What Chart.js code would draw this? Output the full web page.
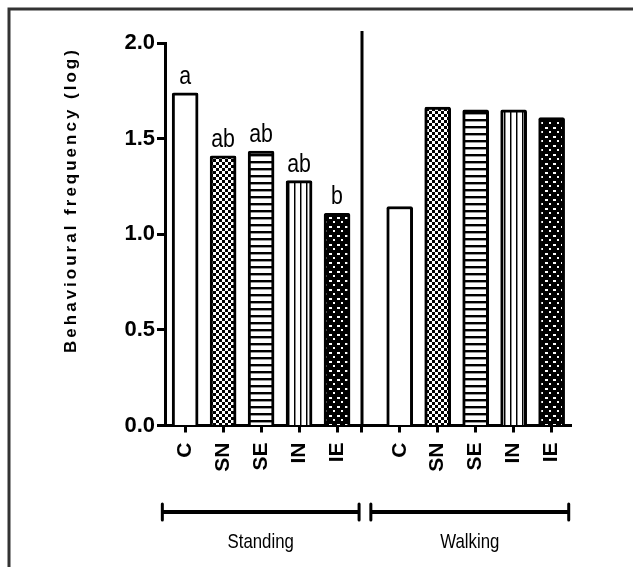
<!DOCTYPE html>
<html>
<head>
<meta charset="utf-8">
<script src="https://cdn.jsdelivr.net/npm/chart.js@4"></script>
<style>
  html, body { margin: 0; padding: 0; background: #fff; }
  #wrap { width: 633px; height: 567px; position: relative; }
</style>
</head>
<body>
<div id="wrap"><canvas id="chart"></canvas></div>
<script>
// Behavioural frequency (log) per treatment, standing vs walking
const groups = ['Standing', 'Walking'];
const treatments = ['C', 'SN', 'SE', 'IN', 'IE'];
const standingPos = [1, 2, 3, 4, 5];
const walkingPos = [6.65, 7.65, 8.65, 9.65, 10.65];
const dividerPos = 5.65;
const standingValues = [1.74, 1.41, 1.435, 1.28, 1.11];
const walkingValues = [1.145, 1.665, 1.65, 1.65, 1.61];
const standingLetters = ['a', 'ab', 'ab', 'ab', 'b'];
const yTicks = [0.0, 0.5, 1.0, 1.5, 2.0];

const SANS = "'Liberation Sans', Arial, sans-serif";

function makePattern(kind) {
    const c = document.createElement('canvas');
    const g = c.getContext('2d');
    if (kind === 'white') return '#ffffff';
    if (kind === 'checker') {
        c.width = 6; c.height = 6;
        g.fillStyle = '#fff'; g.fillRect(0, 0, 6, 6);
        g.fillStyle = '#000';
        g.fillRect(0, 0, 3, 3); g.fillRect(3, 3, 3, 3);
    } else if (kind === 'hlines') {
        c.width = 4; c.height = 7;
        g.fillStyle = '#fff'; g.fillRect(0, 0, 4, 7);
        g.fillStyle = '#000'; g.fillRect(0, 0, 4, 2);
        g.fillStyle = '#999'; g.fillRect(0, 2, 4, 1);
    } else if (kind === 'vlines') {
        c.width = 6; c.height = 4;
        g.fillStyle = '#fff'; g.fillRect(0, 0, 6, 4);
        g.fillStyle = '#000'; g.fillRect(0, 0, 1, 4);
        g.fillStyle = '#888'; g.fillRect(1, 0, 1, 4);
    } else if (kind === 'dots') {
        c.width = 8; c.height = 9;
        g.fillStyle = '#000'; g.fillRect(0, 0, 8, 9);
        g.fillStyle = '#fff';
        g.fillRect(1, 1, 3, 2); g.fillRect(5, 5, 2, 2);
    }
    return g.createPattern(c, 'repeat');
}

const fills = ['white', 'checker', 'hlines', 'vlines', 'dots'].map(makePattern);

const allTickPos = standingPos.concat([dividerPos], walkingPos);
const allTickLabels = treatments.concat([''], treatments);

// narrow-looking text: draw with a horizontal squeeze
function narrowText(ctx, text, x, y, squeeze) {
    ctx.save();
    ctx.translate(x, y);
    ctx.scale(squeeze, 1);
    ctx.fillText(text, 0, 0);
    ctx.restore();
}

const extrasPlugin = {
    id: 'extras',
    afterDraw(chart) {
        const ctx = chart.ctx;
        const x = chart.scales.x;
        const y = chart.scales.y;
        ctx.save();

        // outer frame (top & left)
        ctx.strokeStyle = '#333';
        ctx.lineWidth = 3;
        ctx.beginPath();
        ctx.moveTo(9, 633); ctx.lineTo(9, 9); ctx.lineTo(633, 9);
        ctx.stroke();

        // divider between groups
        ctx.strokeStyle = '#000';
        ctx.lineWidth = 3;
        const dx = Math.round(x.getPixelForValue(dividerPos));
        ctx.beginPath();
        ctx.moveTo(dx, 31); ctx.lineTo(dx, y.getPixelForValue(0));
        ctx.stroke();

        // significance letters
        const meta = chart.getDatasetMeta(0);
        ctx.fillStyle = '#000';
        ctx.font = '26px ' + SANS;
        ctx.textAlign = 'center';
        ctx.textBaseline = 'bottom';
        meta.data.forEach((bar, i) => {
            narrowText(ctx, standingLetters[i], bar.x, bar.y - 3, 0.82);
        });

        // group brackets
        const spans = [
            [standingPos[0] - 0.6, standingPos[4] + 0.58],
            [walkingPos[0] - 0.76, walkingPos[4] + 0.45]
        ];
        const by = 512;
        ctx.font = '21px ' + SANS;
        ctx.textBaseline = 'alphabetic';
        spans.forEach((s, i) => {
            const x0 = x.getPixelForValue(s[0]);
            const x1 = x.getPixelForValue(s[1]);
            ctx.lineWidth = 4;
            ctx.beginPath();
            ctx.moveTo(x0, by); ctx.lineTo(x1, by);
            ctx.stroke();
            ctx.lineWidth = 3;
            ctx.lineCap = 'round';
            ctx.beginPath();
            ctx.moveTo(x0, by - 8); ctx.lineTo(x0, by + 8);
            ctx.moveTo(x1, by - 8); ctx.lineTo(x1, by + 8);
            ctx.stroke();
            ctx.lineCap = 'butt';
            narrowText(ctx, groups[i], (x0 + x1) / 2, 548, 0.8);
        });

        // y axis title, letter-spaced
        ctx.translate(71, 200);
        ctx.rotate(-Math.PI / 2);
        ctx.font = 'bold 17px ' + SANS;
        ctx.letterSpacing = '3px';
        ctx.textAlign = 'center';
        ctx.textBaseline = 'middle';
        ctx.fillText('Behavioural frequency (log)', 0, 0);
        ctx.restore();
    }
};

const barStyle = {
    backgroundColor: fills,
    borderColor: '#000',
    borderWidth: 3,
    borderRadius: 2,
    barThickness: 26,
    grouped: false
};

new Chart(document.getElementById('chart'), {
    type: 'bar',
    data: {
        datasets: [
            Object.assign({
                label: groups[0],
                data: standingPos.map((p, i) => ({ x: p, y: standingValues[i] }))
            }, barStyle),
            Object.assign({
                label: groups[1],
                data: walkingPos.map((p, i) => ({ x: p, y: walkingValues[i] }))
            }, barStyle)
        ]
    },
    options: {
        responsive: true,
        maintainAspectRatio: false,
        animation: false,
        layout: { padding: { top: 43, right: 62, left: 0, bottom: 0 } },
        plugins: {
            legend: { display: false },
            tooltip: { enabled: false }
        },
        scales: {
            x: {
                type: 'linear',
                offset: false,
                min: 0.47,
                max: 11.16,
                afterBuildTicks: function (scale) {
                    scale.ticks = allTickPos.map(v => ({ value: v }));
                },
                afterFit: function (scale) { scale.height = 141.5; },
                border: { display: true, color: '#000', width: 3 },
                grid: { display: true, offset: false, drawOnChartArea: false, drawTicks: true, tickLength: 7, tickWidth: 3, tickColor: '#000' },
                ticks: {
                    autoSkip: false,
                    maxRotation: 90,
                    minRotation: 90,
                    padding: 10,
                    color: '#000',
                    font: { family: SANS, size: 21, weight: 'bold' },
                    callback: function (value, index) { return allTickLabels[index]; }
                }
            },
            y: {
                min: 0,
                max: 2,
                afterBuildTicks: function (scale) {
                    scale.ticks = yTicks.map(v => ({ value: v }));
                },
                afterFit: function (scale) { scale.width = 165; },
                border: { display: true, color: '#000', width: 3 },
                grid: { display: true, drawOnChartArea: false, drawTicks: true, tickLength: 8, tickWidth: 3, tickColor: '#000' },
                ticks: {
                    padding: 2,
                    color: '#000',
                    font: { family: SANS, size: 22, weight: 'bold' },
                    callback: function (value) { return value.toFixed(1); }
                }
            }
        }
    },
    plugins: [extrasPlugin]
});
</script>
</body>
</html>
